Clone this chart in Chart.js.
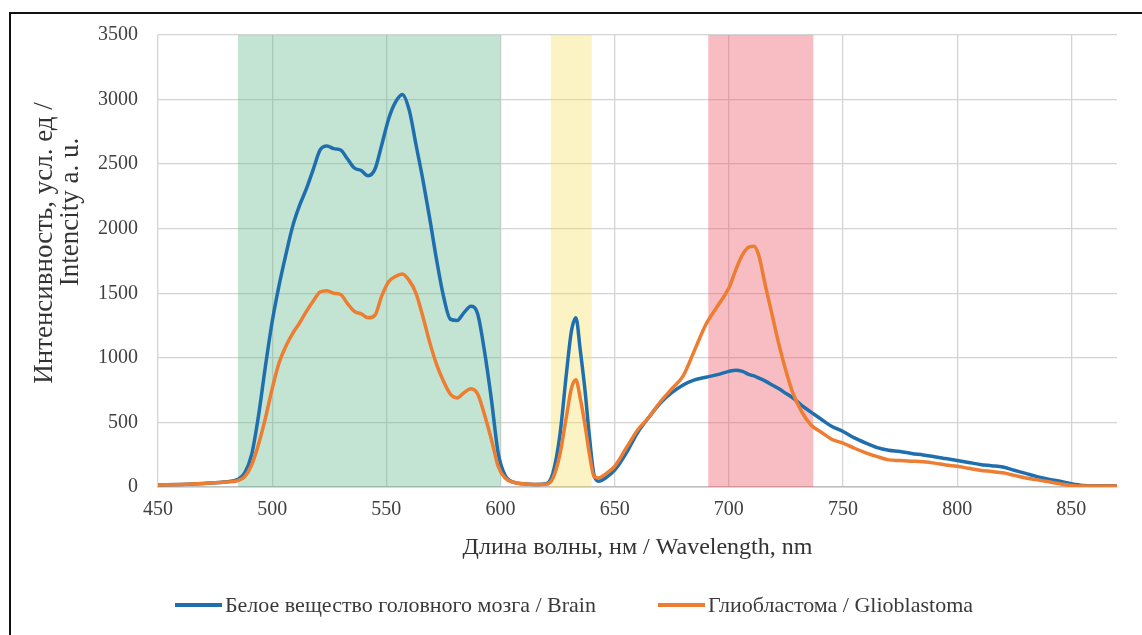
<!DOCTYPE html>
<html>
<head>
<meta charset="utf-8">
<script src="https://cdn.jsdelivr.net/npm/chart.js@4.4.0/dist/chart.umd.min.js"></script>
<style>
  html, body { margin: 0; padding: 0; background: #fff; }
  #wrap { position: relative; width: 1142px; height: 635px; overflow: hidden; }
  #frame { position: absolute; left: 9px; top: 12px; width: 1200px; height: 700px;
           border-left: 2px solid #111; border-top: 2px solid #111; pointer-events: none; }
  #c { position: absolute; left: 0; top: 0; }
  #legend { position: absolute; left: 0; top: 592px; width: 1142px; display: flex;
            justify-content: center; gap: 62px; font-family: "Liberation Serif", serif;
            font-size: 22px; color: #3a3a3a; padding-left: 6px; box-sizing: border-box; }
  .item { display: flex; align-items: center; gap: 3px; }
  .swatch { width: 47px; height: 4px; display: inline-block; }
</style>
</head>
<body>
<div id="wrap">
  <canvas id="c" width="1142" height="635"></canvas>
  <div id="frame"></div>
  <div id="legend"></div>
</div>
<script>
// ---- data ----
const wavelengths = [450,460,470,480,485,488,491,494,497,500,503,506,509,512,515,518,521,524,527,530,533,536,539,542,545,548,551,554,557,560,563,566,569,572,575,578,581,584,587,590,593,596,599,602,606,610,615,620,623,626,629,631,633,635,637,639,641,643,646,650,655,660,665,670,675,680,685,690,695,700,703,706,709,711,713,716,719,722,725,728,732,736,740,745,750,755,760,765,770,775,780,785,790,795,800,805,810,815,820,825,830,835,840,845,850,855,860,865,870];
const brainValues = [15,20,28,40,60,110,250,550,930,1280,1560,1800,2020,2180,2310,2460,2610,2640,2620,2610,2540,2470,2450,2410,2460,2650,2850,2980,3040,2920,2650,2380,2080,1760,1480,1300,1290,1350,1400,1340,1050,680,260,90,35,25,20,25,110,400,900,1200,1310,1050,750,380,90,45,70,130,260,420,540,650,730,790,830,850,870,895,905,895,870,860,845,820,790,760,725,690,630,580,530,470,430,380,340,305,285,275,260,248,235,220,205,190,175,165,155,130,105,80,60,45,25,12,10,10,10];
const gbmValues = [15,20,28,38,50,80,170,330,530,760,960,1090,1190,1270,1360,1440,1510,1520,1500,1490,1420,1360,1340,1310,1330,1480,1590,1630,1650,1600,1500,1320,1120,950,820,720,690,730,760,720,560,370,160,70,35,25,20,22,70,250,560,760,830,680,480,250,80,70,100,160,300,440,540,660,760,860,1060,1260,1400,1540,1680,1800,1860,1865,1800,1560,1330,1100,900,730,580,480,430,370,340,300,265,235,210,205,200,195,185,170,160,145,130,120,110,90,70,55,40,25,12,8,8,8,8];
const seriesNames = ["Белое вещество головного мозга / Brain", "Глиобластома / Glioblastoma"];
const xTicks = [450,500,550,600,650,700,750,800,850];
const yTicks = [0,500,1000,1500,2000,2500,3000,3500];
const bandRanges = [[485,600],[622,640],[691,737]];
const bandColors = ["rgba(100,185,140,0.38)","rgba(245,220,90,0.35)","rgba(235,90,105,0.40)"];
const xTitle = "Длина волны, нм / Wavelength, nm";
const yTitle = ["Интенсивность, усл. ед /", "Intencity a. u."];
const colors = ["#1f6fae", "#ed7d31"];

const toPts = vals => wavelengths.map((w,i) => ({x: w, y: vals[i]}));
const serif = "'Liberation Serif', 'Times New Roman', serif";

const bandPlugin = {
  id: 'bands',
  beforeDatasetsDraw(chart) {
    const {ctx, chartArea, scales} = chart;
    ctx.save();
    bandRanges.forEach((r, i) => {
      const x1 = scales.x.getPixelForValue(r[0]);
      const x2 = scales.x.getPixelForValue(r[1]);
      ctx.fillStyle = bandColors[i];
      ctx.fillRect(x1, chartArea.top, x2 - x1, chartArea.bottom - chartArea.top);
    });
    ctx.restore();
  }
};

// y-axis title, two rotated lines placed as in the original figure
const yTitlePlugin = {
  id: 'ytitle',
  afterDraw(chart) {
    const ctx = chart.ctx;
    const centers = [[45, 243], [71, 212]];
    ctx.save();
    ctx.fillStyle = '#333';
    ctx.font = "27px " + serif;
    ctx.textAlign = 'center';
    ctx.textBaseline = 'middle';
    yTitle.forEach((t, i) => {
      ctx.save();
      ctx.translate(centers[i][0], centers[i][1]);
      ctx.rotate(-Math.PI / 2);
      ctx.fillText(t, 0, 0);
      ctx.restore();
    });
    ctx.restore();
  }
};

new Chart(document.getElementById('c'), {
  type: 'line',
  data: {
    datasets: [
      { label: seriesNames[0], data: toPts(brainValues), borderColor: colors[0], backgroundColor: colors[0],
        borderWidth: 3.5, pointRadius: 0, cubicInterpolationMode: 'monotone', order: 2 },
      { label: seriesNames[1], data: toPts(gbmValues), borderColor: colors[1], backgroundColor: colors[1],
        borderWidth: 3.5, pointRadius: 0, cubicInterpolationMode: 'monotone', order: 1 }
    ]
  },
  options: {
    responsive: false,
    animation: false,
    layout: { padding: { left: 0, top: 35, right: 25, bottom: 73 } },
    plugins: { legend: { display: false }, tooltip: { enabled: false } },
    scales: {
      x: {
        type: 'linear', min: 450, max: 870,
        afterBuildTicks: s => { s.ticks = xTicks.map(v => ({value: v})); },
        afterFit: s => { s.height = 75; },
        grid: { color: '#d4d4d4', lineWidth: 1.3, drawTicks: false },
        border: { color: '#bdbdbd', width: 1.5 },
        ticks: { padding: 11, color: '#404040', font: { family: serif, size: 20 },
                 callback: v => String(v) },
        title: { display: true, text: xTitle, color: '#333', padding: 0,
                 font: { family: serif, size: 24 } }
      },
      y: {
        type: 'linear', min: 0, max: 3500,
        afterBuildTicks: s => { s.ticks = yTicks.map(v => ({value: v})); },
        afterFit: s => { s.width = 158; },
        grid: { color: '#d4d4d4', lineWidth: 1.3, drawTicks: false },
        border: { display: false },
        ticks: { padding: 20, color: '#404040', font: { family: serif, size: 20 },
                 callback: v => String(v) },
        title: { display: false }
      }
    }
  },
  plugins: [bandPlugin, yTitlePlugin]
});

// HTML legend
const leg = document.getElementById('legend');
seriesNames.forEach((n, i) => {
  const it = document.createElement('div'); it.className = 'item';
  const sw = document.createElement('span'); sw.className = 'swatch'; sw.style.background = colors[i];
  const tx = document.createElement('span'); tx.textContent = n;
  it.appendChild(sw); it.appendChild(tx); leg.appendChild(it);
});
</script>
</body>
</html>
